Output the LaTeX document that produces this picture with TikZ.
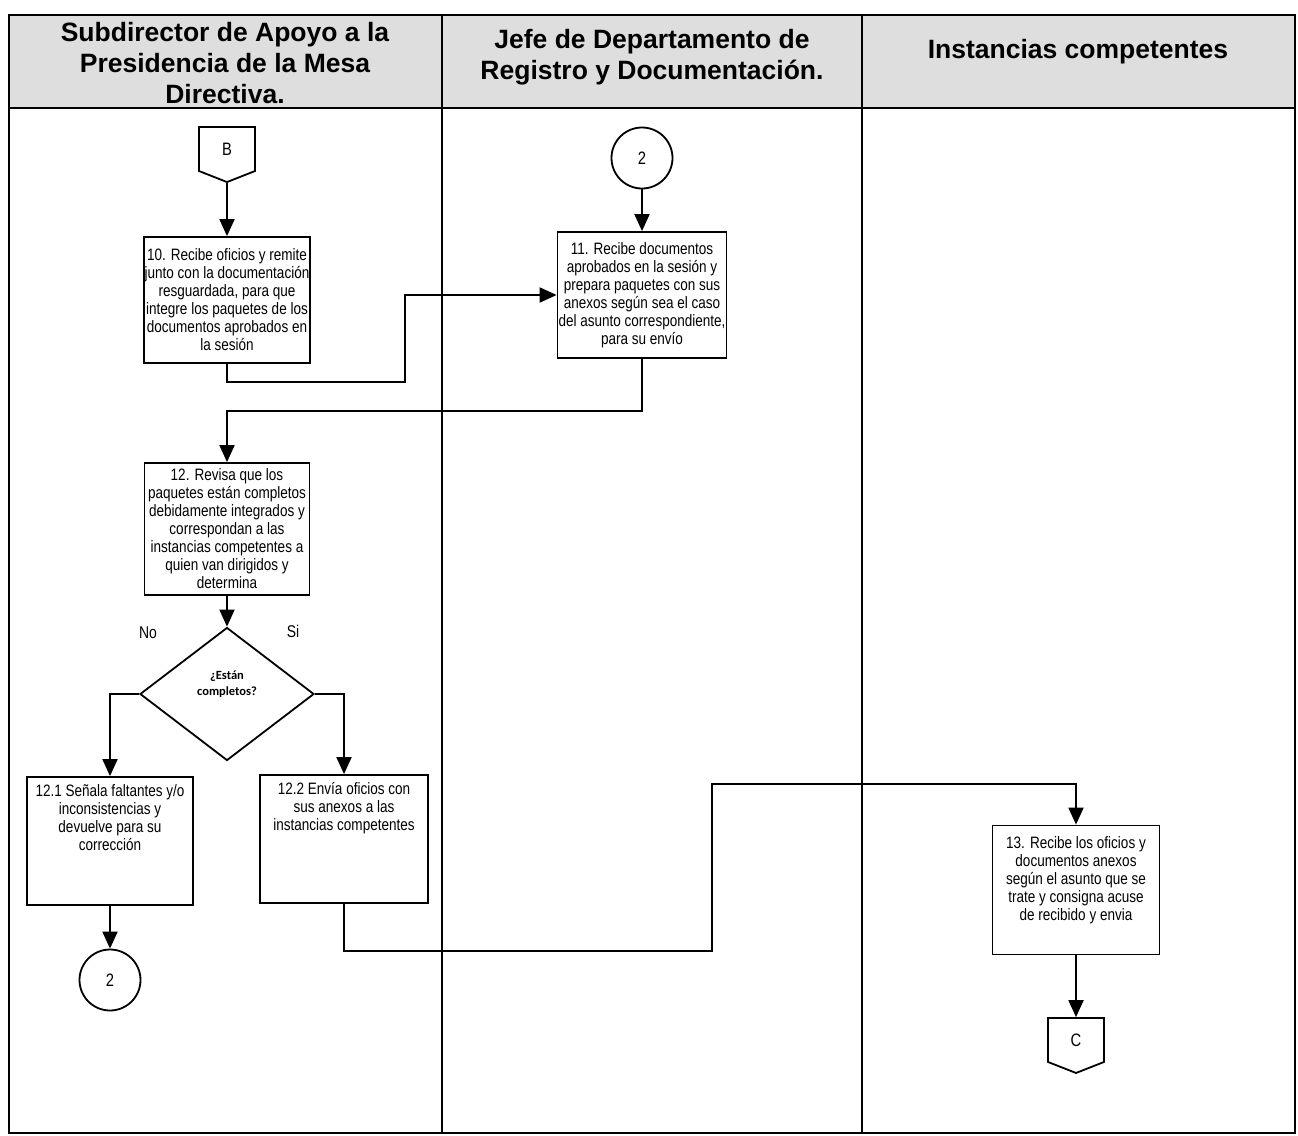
\documentclass[tikz,border=0pt]{standalone}
\usepackage{fontspec}
\setmainfont{Liberation Sans}
\newfontfamily\narrowsans[FakeStretch=0.82]{Liberation Sans}
\newfontfamily\calibrisans{Carlito}
\usetikzlibrary{arrows.meta,shapes.geometric,shapes.symbols}

\begin{document}
\begin{tikzpicture}[x=1pt,y=-1pt,
  lane/.style={line width=1.6pt},
  head/.style={align=center,font=\fontsize{26.5}{31}\selectfont\bfseries},
  box/.style={draw,line width=1.8pt,align=center,inner sep=1pt,font=\narrowsans\fontsize{16.5}{18}\selectfont},
  toptext/.style={anchor=north,yshift=-8pt,inner sep=0pt,align=center,font=\narrowsans\fontsize{16.5}{18}\selectfont},
  conn/.style={draw,circle,line width=1.8pt,minimum size=61pt,inner sep=0pt,font=\narrowsans\fontsize{18}{18}\selectfont},
  offpage/.style={draw,line width=1.8pt,signal,signal to=south,signal pointer angle=137,minimum width=56pt,minimum height=46pt,inner sep=0pt,font=\narrowsans\fontsize{18}{18}\selectfont},
  decision/.style={draw,diamond,line width=1.8pt,minimum width=174pt,minimum height=133pt,inner sep=0pt},
  dectext/.style={anchor=center,yshift=10pt,inner sep=0pt,align=center,font=\calibrisans\bfseries\fontsize{12.5}{16.5}\selectfont},
  answer/.style={font=\narrowsans\fontsize{17}{17}\selectfont},
  flow/.style={line width=1.9pt,-{Triangle[length=17pt,width=15pt]}}]
\path[fill=white] (0,0) rectangle (1298,1135);
\useasboundingbox (0,0) rectangle (1298,1135);
% swimlanes
\fill[black!13] (9,15) rectangle (1295,108);
\draw[lane] (9,15) rectangle (1295,1133);
\draw[lane] (9,108) -- (1295,108);
\draw[lane] (442,15) -- (442,1133);
\draw[lane] (862,15) -- (862,1133);
\node[head](h1) at (225,63) {Subdirector de Apoyo a la\\Presidencia de la Mesa\\Directiva.};
\node[head](h2) at (652,57) {Jefe de Departamento de\\Registro y Documentación.};
\node[head](h3) at (1078,52) {Instancias competentes};
% steps
\node[offpage](B) at (227,149) {B};
\node[box,minimum width=165pt,minimum height=126pt](s10) at (227,300) {10. Recibe oficios y remite\\junto con la documentación\\resguardada, para que\\integre los paquetes de los\\documentos aprobados en\\la sesión};
\node[conn](c2a) at (642,158) {2};
\node[box,minimum width=165pt,minimum height=126pt](s11) at (642,295) {11. Recibe documentos\\aprobados en la sesión y\\prepara paquetes con sus\\anexos según sea el caso\\del asunto correspondiente,\\para su envío};
\node[box,minimum width=165pt,minimum height=132pt](s12) at (227,529) {12. Revisa que los\\paquetes están completos\\debidamente integrados y\\correspondan a las\\instancias competentes a\\quien van dirigidos y\\determina};
\node[decision,label={[dectext]center:¿Están\\completos?}](dec) at (227,694) {};
\node[answer](no) at (148,633) {No};
\node[answer](si) at (293,631) {Si};
\node[box,minimum width=166pt,minimum height=128pt,label={[toptext]north:12.1 Señala faltantes y/o\\inconsistencias y\\devuelve para su\\corrección}](s121) at (110,841) {};
\node[box,minimum width=168pt,minimum height=128pt,label={[toptext]north:12.2 Envía oficios con\\sus anexos a las\\instancias competentes}](s122) at (344,839) {};
\node[conn](c2b) at (110,980) {2};
\node[box,minimum width=167pt,minimum height=129pt,label={[toptext,yshift=-4pt]north:13. Recibe los oficios y\\documentos anexos\\según el asunto que se\\trate y consigna acuse\\de recibido y envia}](s13) at (1076,890) {};
\node[offpage](C) at (1076,1040) {C};
% connectors
\draw[flow] (B) -- (s10);
\draw[flow] (s10.south) -- ++(0,18) -- ++(178,0) |- (s11.west);
\draw[flow] (c2a) -- (s11);
\draw[flow] (s11.south) -- ++(0,52) -| (s12.north);
\draw[flow] (s12) -- (dec);
\draw[flow] (dec.west) -| (s121.north);
\draw[flow] (dec.east) -| (s122.north);
\draw[flow] (s121) -- (c2b);
\draw[flow] (s122.south) -- ++(0,47) -| ++(368,-167) -| (s13.north);
\draw[flow] (s13) -- (C);
\end{tikzpicture}
\end{document}
